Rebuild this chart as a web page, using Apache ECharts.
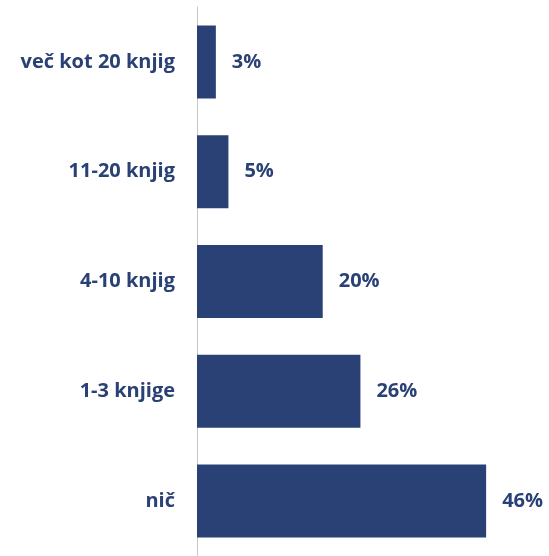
<!DOCTYPE html>
<html>
<head>
<meta charset="utf-8">
<script src="https://cdn.jsdelivr.net/npm/echarts@6/dist/echarts.min.js"></script>
<style>
  html, body { margin: 0; padding: 0; background: #fff; }
  #chart { width: 549px; height: 556px; }
</style>
</head>
<body>
<div id="chart"></div>
<script>
var categories = ["več kot 20 knjig", "11-20 knjig", "4-10 knjig", "1-3 knjige", "nič"];
var values = [3, 5, 20, 26, 46];

var navy = "#2a4175";
var chart = echarts.init(document.getElementById("chart"));
chart.setOption({
  animation: false,
  grid: { left: 197, top: 7, height: 550, right: 0 },
  xAxis: {
    type: "value",
    min: 0,
    max: 56,
    show: false
  },
  yAxis: {
    type: "category",
    data: categories,
    inverse: true,
    axisLine: { lineStyle: { color: "#c8c8c8", width: 1 } },
    axisTick: { length: 7, lineStyle: { color: "#c8c8c8" } },
    axisLabel: {
      margin: 22,
      color: navy,
      fontFamily: "Open Sans",
      fontWeight: "bold",
      fontSize: 20
    }
  },
  series: [{
    type: "bar",
    data: values,
    barWidth: 73,
    itemStyle: { color: navy },
    label: {
      show: true,
      position: "right",
      distance: 16,
      formatter: "{c}%",
      color: navy,
      fontFamily: "Open Sans",
      fontWeight: "bold",
      fontSize: 20
    }
  }]
});
</script>
</body>
</html>
